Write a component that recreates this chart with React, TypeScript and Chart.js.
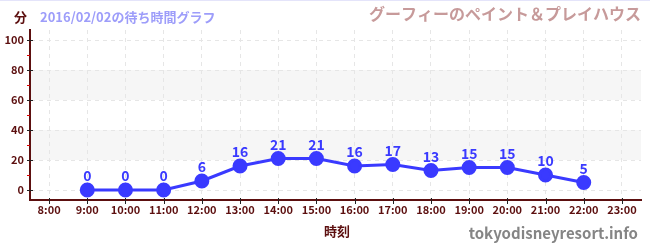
import React, { useEffect, useRef } from "react";
import { Chart, registerables } from "chart.js";

Chart.register(...registerables);

const categories = ["8:00", "9:00", "10:00", "11:00", "12:00", "13:00", "14:00", "15:00", "16:00", "17:00", "18:00", "19:00", "20:00", "21:00", "22:00", "23:00"];
const waitTimes: (number | null)[] = [null, 0, 0, 0, 6, 16, 21, 21, 16, 17, 13, 15, 15, 10, 5, null];
const yTicks = [0, 20, 40, 60, 80, 100];
const yMinorTicks = [10, 30, 50, 70, 90];
const bands: [number, number][] = [[20, 40], [60, 80]];

const unitLabel = "分";
const dateTitle = "2016/02/02の待ち時間グラフ";
const attractionTitle = "グーフィーのペイント＆プレイハウス";
const xAxisTitle = "時刻";
const siteLabel = "tokyodisneyresort.info";

const FONT = "'Noto Sans CJK JP', 'Noto Sans', sans-serif";
const DARK = "#5c0f0f";
const BLUE = "#3a3aff";

export default function App() {
  const ref = useRef<HTMLCanvasElement | null>(null);
  useEffect(() => {
    if (!ref.current) return;
    const decor = {
      id: "decor",
      beforeDraw(chart: any) {
        const { ctx, chartArea } = chart;
        const y = chart.scales.y;
        ctx.save();
        ctx.fillStyle = "#ffffff";
        ctx.fillRect(0, 0, chart.width, chart.height);
        ctx.fillStyle = "#f6f6f6";
        bands.forEach(([a, b]) => {
          const y1 = y.getPixelForValue(b);
          const y2 = y.getPixelForValue(a);
          ctx.fillRect(chartArea.left, y1, chartArea.right - chartArea.left, y2 - y1);
        });
        ctx.strokeStyle = "#e4e4fa";
        ctx.lineWidth = 1;
        ctx.beginPath();
        ctx.moveTo(0, 0.5);
        ctx.lineTo(chart.width, 0.5);
        ctx.stroke();
        ctx.restore();
      },
      afterDatasetsDraw(chart: any) {
        const { ctx } = chart;
        const meta = chart.getDatasetMeta(0);
        ctx.save();
        ctx.fillStyle = BLUE;
        ctx.font = `bold 14px ${FONT}`;
        ctx.textAlign = "center";
        ctx.textBaseline = "middle";
        meta.data.forEach((pt: any, i: number) => {
          const v = waitTimes[i];
          if (v === null || v === undefined) return;
          ctx.fillText(String(v), pt.x, pt.y - 14);
        });
        ctx.restore();
      },
      afterDraw(chart: any) {
        const { ctx, chartArea } = chart;
        const y = chart.scales.y;
        const x = chart.scales.x;
        ctx.save();
        ctx.lineWidth = 1;
        ctx.strokeStyle = "#222";
        yTicks.forEach((v) => {
          const py = Math.round(y.getPixelForValue(v)) + 0.5;
          ctx.beginPath();
          ctx.moveTo(chartArea.left - 3, py);
          ctx.lineTo(chartArea.left + 3, py);
          ctx.stroke();
        });
        ctx.strokeStyle = "#dd0000";
        yMinorTicks.forEach((v) => {
          const py = Math.round(y.getPixelForValue(v)) + 0.5;
          ctx.beginPath();
          ctx.moveTo(chartArea.left - 3, py);
          ctx.lineTo(chartArea.left, py);
          ctx.stroke();
        });
        ctx.strokeStyle = "#222";
        categories.forEach((_, i) => {
          const px = Math.round(x.getPixelForValue(i)) + 0.5;
          ctx.beginPath();
          ctx.moveTo(px, chartArea.bottom - 2);
          ctx.lineTo(px, chartArea.bottom + 4);
          ctx.stroke();
        });
        ctx.textBaseline = "middle";
        ctx.textAlign = "left";
        ctx.fillStyle = DARK;
        ctx.font = `bold 13px ${FONT}`;
        ctx.fillText(unitLabel, 14, 17);
        ctx.fillStyle = "#9d9dfa";
        ctx.fillText(dateTitle, 40, 17);
        ctx.textAlign = "right";
        ctx.fillStyle = "#c79a9a";
        ctx.font = `bold 16px ${FONT}`;
        ctx.fillText(attractionTitle, 641, 14);
        ctx.textAlign = "center";
        ctx.fillStyle = DARK;
        ctx.font = `bold 13px ${FONT}`;
        ctx.fillText(xAxisTitle, 337, 231);
        ctx.textAlign = "right";
        ctx.fillStyle = "#858585";
        ctx.font = `bold 15px ${FONT}`;
        ctx.fillText(siteLabel, 638, 233);
        ctx.restore();
      },
    };

    const chart = new Chart(ref.current, {
      type: "line",
      data: {
        labels: categories,
        datasets: [
          {
            data: waitTimes,
            borderColor: BLUE,
            backgroundColor: BLUE,
            pointBackgroundColor: BLUE,
            pointBorderColor: BLUE,
            borderWidth: 3,
            pointRadius: 6,
            pointHoverRadius: 6,
            tension: 0,
            spanGaps: false,
          },
        ],
      },
      options: {
        responsive: false,
        animation: false,
        layout: { padding: { left: 0, top: 30, right: 9, bottom: 0 } },
        plugins: { legend: { display: false }, title: { display: false }, tooltip: { enabled: false } },
        scales: {
          x: {
            type: "category",
            offset: true,
            grid: { color: "#e6e6e6", lineWidth: 1, drawTicks: false, offset: false },
            border: { display: true, color: DARK, width: 2, dash: [4, 4] },
            ticks: { color: DARK, font: { family: FONT, size: 11, weight: "bold" }, padding: 3, maxRotation: 0, autoSkip: false },
            afterFit: (s: any) => { s.height = 50; },
          },
          y: {
            min: -20 / 3,
            max: 320 / 3,
            grid: { color: "#e6e6e6", lineWidth: 1, drawTicks: false },
            border: { display: true, color: DARK, width: 2, dash: [4, 4] },
            ticks: { color: DARK, font: { family: FONT, size: 11, weight: "bold" }, padding: 6 },
            afterBuildTicks: (s: any) => { s.ticks = yTicks.map((v) => ({ value: v })); },
            afterFit: (s: any) => { s.width = 30; },
          },
        },
      },
      plugins: [decor],
    } as any);
    return () => chart.destroy();
  }, []);

  return (
    <div style={{ position: "absolute", left: 0, top: 0, width: 650, height: 250 }}>
      <canvas ref={ref} width={650} height={250} style={{ width: 650, height: 250 }} />
    </div>
  );
}
